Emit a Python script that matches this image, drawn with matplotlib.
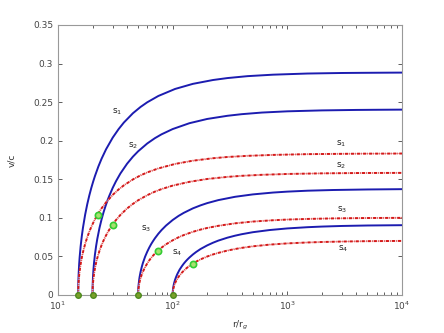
import matplotlib
matplotlib.use("Agg")
import matplotlib.pyplot as plt
from matplotlib.ticker import FixedLocator, LogLocator, NullFormatter

# r grids (r/r_g) for each starting radius
r_15 = [15, 15.03, 15.075, 15.15, 15.3, 15.45, 15.75, 16.125, 16.5, 17.25, 18, 18.75, 19.5,
        20.25, 21, 22.5, 24, 26.25, 30, 33.75, 37.5, 45, 52.5, 60, 75, 105, 150, 225, 300, 450,
        750, 1500, 3000, 4500, 7500, 10000]
r_20 = [20, 20.04, 20.1, 20.2, 20.4, 20.6, 21, 21.5, 22, 23, 24, 25, 26, 27, 28, 30, 32, 35, 40,
        45, 50, 60, 70, 80, 100, 140, 200, 300, 400, 600, 1000, 2000, 4000, 6000, 10000]
r_50 = [50, 50.1, 50.25, 50.5, 51, 51.5, 52.5, 53.75, 55, 57.5, 60, 62.5, 65, 67.5, 70, 75, 80,
        87.5, 100, 112.5, 125, 150, 175, 200, 250, 350, 500, 750, 1000, 1500, 2500, 5000, 10000]
r_100 = [100, 100.2, 100.5, 101, 102, 103, 105, 107.5, 110, 115, 120, 125, 130, 135, 140, 150,
         160, 175, 200, 225, 250, 300, 350, 400, 500, 700, 1000, 1500, 2000, 3000, 5000, 10000]

# solid (blue) series
blue_s1 = [0, .0129, .0203, .0287, .0404, .0492, .0630, .0762, .0870, .1042, .1178, .1290, .1386,
           .1469, .1542, .1666, .1767, .1889, .2040, .2150, .2235, .2356, .2438, .2498, .2580,
           .2671, .2737, .2787, .2812, .2837, .2856, .2871, .2878, .2880, .2882, .2883]
blue_s2 = [0, .0108, .0170, .0239, .0337, .0411, .0525, .0635, .0725, .0869, .0982, .1076, .1155,
           .1225, .1285, .1389, .1473, .1575, .1701, .1793, .1863, .1964, .2033, .2083, .2151,
           .2227, .2282, .2323, .2344, .2365, .2381, .2393, .2399, .2401, .2403]
blue_s3 = [0, .0061, .0097, .0137, .0193, .0235, .0300, .0363, .0415, .0497, .0561, .0615, .0661,
           .0700, .0735, .0794, .0842, .0900, .0972, .1025, .1065, .1123, .1162, .1191, .1230,
           .1273, .1304, .1328, .1340, .1352, .1361, .1368, .1372]
blue_s4 = [0, .0041, .0064, .0091, .0127, .0155, .0199, .0240, .0274, .0329, .0371, .0407, .0437,
           .0463, .0486, .0525, .0557, .0596, .0643, .0678, .0705, .0743, .0769, .0788, .0814,
           .0842, .0863, .0879, .0887, .0895, .0901, .0905]

# dash-dot (red) series
red_s1 = [0, .0082, .0129, .0183, .0257, .0313, .0400, .0485, .0553, .0663, .0749, .0821, .0882,
          .0934, .0981, .1060, .1124, .1201, .1298, .1368, .1421, .1498, .1551, .1589, .1641,
          .1699, .1741, .1773, .1789, .1804, .1816, .1826, .1830, .1832, .1833, .1834]
red_s2 = [0, .0071, .0112, .0158, .0222, .0271, .0346, .0419, .0478, .0573, .0647, .0709, .0761,
          .0807, .0847, .0915, .0971, .1038, .1121, .1181, .1228, .1294, .1340, .1373, .1418,
          .1467, .1504, .1531, .1545, .1558, .1569, .1577, .1581, .1582, .1583]
red_s3 = [0, .0045, .0071, .0100, .0140, .0171, .0219, .0265, .0302, .0362, .0409, .0449, .0482,
          .0511, .0536, .0579, .0614, .0657, .0709, .0748, .0777, .0819, .0848, .0869, .0897,
          .0929, .0952, .0969, .0978, .0986, .0993, .0998, .1000]
red_s4 = [0, .0032, .0050, .0070, .0099, .0120, .0154, .0186, .0213, .0255, .0288, .0315, .0339,
          .0359, .0377, .0407, .0432, .0462, .0499, .0526, .0546, .0576, .0596, .0611, .0631,
          .0653, .0669, .0681, .0687, .0693, .0698, .0701]

# markers
start_r = [15, 20, 50, 100]
start_v = [0, 0, 0, 0]
mark_r = [22.5, 30, 75, 150]
mark_v = [0.104, 0.091, 0.057, 0.040]

# labels
label_text = ["s$_1$", "s$_2$", "s$_3$", "s$_4$"]
blue_label_r = [33, 45, 59, 110]
blue_label_v = [0.237, 0.194, 0.0856, 0.0544]
red_label_r = [2960, 2960, 3000, 3050]
red_label_v = [0.196, 0.167, 0.110, 0.0596]

yticks = [0, 0.05, 0.1, 0.15, 0.2, 0.25, 0.3, 0.35]
ytick_labels = ["0", "0.05", "0.1", "0.15", "0.2", "0.25", "0.3", "0.35"]
xticks = [10, 100, 1000, 10000]
xtick_labels = ["10$^1$", "10$^2$", "10$^3$", "10$^4$"]

fig = plt.figure(figsize=(4.44, 3.33), dpi=100)
ax = fig.add_axes([58 / 444, 1 - 295 / 333, (402 - 58) / 444, (295 - 25) / 333])

blue = "#1c1cb0"
red = "#d41a1a"
red_sets = [(r_15, red_s1), (r_20, red_s2), (r_50, red_s3), (r_100, red_s4)]
blue_sets = [(r_15, blue_s1), (r_20, blue_s2), (r_50, blue_s3), (r_100, blue_s4)]
for r, v in blue_sets:
    ax.plot(r, v, color=blue, lw=1.4, zorder=3)
for r, v in red_sets:
    ax.plot(r, v, color="#f2b8b8", lw=0.7, zorder=3.5)
    ax.plot(r, v, color=red, lw=1.4, linestyle=(0, (1.6, 0.6, 0.3, 0.6)), zorder=4)

ax.plot(start_r, start_v, linestyle="none", marker="o", ms=4, mfc="#7aa02a", mec="#4c8a1e",
        zorder=5, clip_on=False)
ax.plot(mark_r, mark_v, linestyle="none", marker="o", ms=4.5, mfc="#a8e070", mec="#33cc33",
        mew=1.2, zorder=5)

for t, x, y in zip(label_text, blue_label_r, blue_label_v):
    ax.text(x, y, t, fontsize=6.5, ha="center", va="center", color="#222222")
for t, x, y in zip(label_text, red_label_r, red_label_v):
    ax.text(x, y, t, fontsize=6.5, ha="center", va="center", color="#222222")

ax.set_xscale("log")
ax.set_xlim(10, 10000)
ax.set_ylim(0, 0.35)
ax.set_yticks(yticks)
ax.set_yticklabels(ytick_labels)
ax.xaxis.set_major_locator(FixedLocator(xticks))
ax.set_xticklabels(xtick_labels)
ax.xaxis.set_minor_locator(LogLocator(base=10, subs=range(2, 10)))
ax.xaxis.set_minor_formatter(NullFormatter())

ax.tick_params(which="both", direction="in", top=True, right=True, labelsize=6.5,
               colors="#444444", width=0.6)
ax.tick_params(which="major", length=3)
ax.tick_params(which="minor", length=2)
for s in ax.spines.values():
    s.set_color("#999999")
    s.set_linewidth(0.8)

ax.set_ylabel("v/c", fontsize=6.5, color="#333333", labelpad=12)
ax.set_xlabel("r/r$_g$", fontsize=6.5, color="#333333", labelpad=10)
ax.xaxis.set_label_coords(0.53, -0.09)

fig.savefig("out.png", dpi=100)
